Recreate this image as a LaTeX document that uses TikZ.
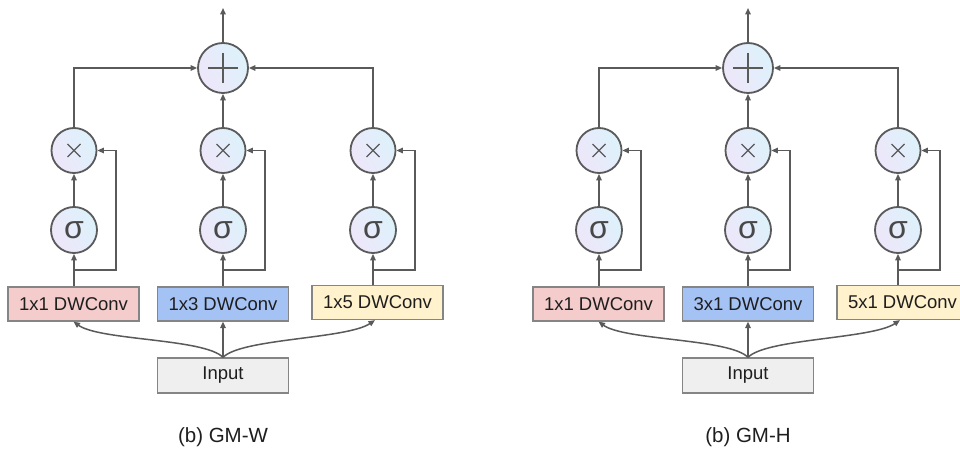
\documentclass[tikz,border=0pt]{standalone}
\usepackage{fontspec}
\setmainfont{Liberation Sans}
\usetikzlibrary{arrows.meta}
\definecolor{ln}{HTML}{5A5A5A}
\definecolor{bd}{HTML}{858585}
\definecolor{cA}{HTML}{EEE6FA}
\definecolor{cB}{HTML}{DDF2FB}
\definecolor{pinkf}{HTML}{F4CCCC}
\definecolor{bluef}{HTML}{A4C2F4}
\definecolor{yelf}{HTML}{FFF2CC}
\definecolor{grayf}{HTML}{EFEFEF}
\definecolor{txt}{HTML}{1E1E1E}
\definecolor{sig}{HTML}{484848}
\tikzset{
  conn/.style={draw=ln, line width=1.5pt, -{Triangle[length=6.5pt,width=5.5pt]}},
  circ/.style={circle, draw=ln, line width=1.8pt, inner sep=0pt, left color=cA, right color=cB, shading angle=120},
  opbox/.style={rectangle, draw=bd, line width=1.2pt, minimum width=131pt, minimum height=34pt, inner sep=0pt, text=txt, font=\fontsize{18.5}{20}\selectfont},
  sym/.style={draw=ln, line width=1.2pt},
  captext/.style={text=txt, font=\fontsize{20.5}{22}\selectfont},
}
\newcommand\gmpanel[6]{%
\begin{scope}[xshift=#2pt]
  \node[circ, minimum size=50pt] (#1p) at (223,68) {};
  \draw[sym, line width=1.6pt] (#1p.center) +(-15,0) -- +(15,0) (#1p.center) +(0,-15) -- +(0,15);
  \coordinate (#1out) at (223,8);
  \foreach \n/\x/\fx in {L/74/116, M/223/265, R/373/415}{
    \node[circ, minimum size=45pt] (#1t\n) at (\x,150.5) {};
    \draw[sym] (#1t\n.center) +(-6.5,-6.5) -- +(6.5,6.5) (#1t\n.center) +(-6.5,6.5) -- +(6.5,-6.5);
    \node[circ, minimum size=46pt, text=sig, font=\fontsize{32}{34}\selectfont] (#1s\n) at (\x,230) {\raisebox{-3.5pt}{σ}};
    \coordinate (#1j\n) at (\x,270);
    \coordinate (#1f\n) at (\fx,270);
  }
  \node[opbox, fill=pinkf] (#1bL) at (73.5,304) {#3};
  \node[opbox, fill=bluef] (#1bM) at (223,304) {#4};
  \node[opbox, fill=yelf] (#1bR) at (377.5,302.5) {#5};
  \node[opbox, fill=grayf, minimum height=35pt] (#1in) at (223,375.5) {Input};
  \node[captext] (#1cap) at (223,437) {#6};
  % connections
  \draw[conn] (#1p.north) -- (#1out);
  \draw[conn] (#1tL.north) |- (#1p.west);
  \draw[conn] (#1tR.north) |- (#1p.east);
  \draw[conn] (#1tM.north) -- (#1p.south);
  \foreach \n in {L,M,R}{
    \draw[conn] (#1s\n |- #1b\n.north) -- (#1s\n.south);
    \draw[conn] (#1s\n.north) -- (#1t\n.south);
    \draw[conn] (#1j\n) -- (#1f\n) |- (#1t\n.east);
  }
  \draw[conn] (#1in.north) -- (#1bM.south);
  \draw[conn] (#1in.north) .. controls +(-18,-19) and +(26,19) .. (#1bL.south);
  \draw[conn] (#1in.north) .. controls +(18,-19) and +(-28,19) .. ([xshift=-2.5pt]#1bR.south);
\end{scope}}
\begin{document}
\begin{tikzpicture}[x=1pt, y=-1pt]
  \useasboundingbox (0,0) rectangle (960,454);
  \clip (0,0) rectangle (960,454);
  \fill[white] (0,0) rectangle (960,454);
  \gmpanel{w}{0}{1x1 DWConv}{1x3 DWConv}{1x5 DWConv}{(b) GM-W}
  \gmpanel{h}{525}{1x1 DWConv}{3x1 DWConv}{5x1 DWConv}{(b) GM-H}
\end{tikzpicture}
\end{document}
